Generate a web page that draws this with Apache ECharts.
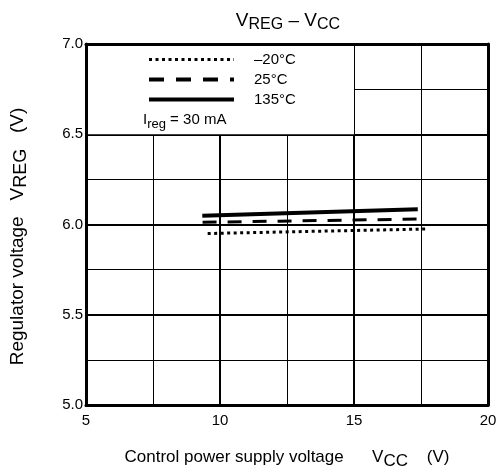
<!DOCTYPE html>
<html>
<head>
<meta charset="utf-8">
<script src="https://cdn.jsdelivr.net/npm/echarts@6/dist/echarts.min.js"></script>
<style>html,body{margin:0;padding:0;background:#fff;}#c{width:502px;height:471px;}</style>
</head>
<body>
<div id="c"></div>
<script>
// ---- data ----
const seriesNames = ['–20°C', '25°C', '135°C'];
const vccM20 = [9.54, 17.68];
const vregM20 = [5.950, 5.975];
const vcc25 = [9.35, 17.38];
const vreg25 = [6.012, 6.030];
const vcc135 = [9.34, 17.38];
const vreg135 = [6.048, 6.085];
const xTicks = [5, 10, 15, 20];
const yTicks = [5.0, 5.5, 6.0, 6.5, 7.0];
// legend box region (no grid inside): x range and y range
const boxX = [5, 15];
const boxY = [6.5, 7.0];

const FONT = "'Liberation Sans', Arial, sans-serif";
function pairs(xs, ys) { return xs.map((x, i) => [x, ys[i]]); }

const chart = echarts.init(document.getElementById('c'), null, { renderer: 'canvas' });
const frameLine = { show: true, lineStyle: { color: '#000', width: 3 } };
const noShow = { show: false };
const dotType = [3, 3.5];
const dashType = [14, 11];

function richPair(main, sub, lhMain, lhSub) {
  return {
    a: { fontFamily: FONT, fontSize: main, fontWeight: 'normal', color: '#000', lineHeight: lhMain, verticalAlign: 'top' },
    s: { fontFamily: FONT, fontSize: sub, fontWeight: 'normal', color: '#000', lineHeight: lhSub, verticalAlign: 'bottom' }
  };
}

chart.setOption({
  animation: false,
  backgroundColor: '#fff',
  textStyle: { fontFamily: FONT, color: '#000' },
  title: {
    text: '{a|V}{s|REG}{a| – V}{s|CC}',
    left: 283, top: 6, textAlign: 'center',
    textStyle: { fontWeight: 'normal', rich: richPair(19, 16, 22, 16) }
  },
  grid: { left: 86, right: 14, top: 44, bottom: 66, containLabel: false, outerBoundsMode: 'none' },
  legend: {
    orient: 'vertical', left: 147, top: 52, padding: 0,
    itemWidth: 85, itemHeight: 14, itemGap: 5,
    itemStyle: { opacity: 0 },
    data: [
      { name: seriesNames[0], lineStyle: { width: 3, type: dotType, color: '#000' } },
      { name: seriesNames[1], lineStyle: { width: 4, type: [15, 12], color: '#000' } },
      { name: seriesNames[2], lineStyle: { width: 4, type: 'solid', color: '#000' } }
    ],
    textStyle: { fontFamily: FONT, fontSize: 15, lineHeight: 14, color: '#000', padding: [0, 0, 0, 15] }
  },
  graphic: [{
    type: 'text', left: 143, top: 112, z: 10,
    style: {
      text: '{a|I}{s|reg}{a| = 30 mA}',
      rich: {
        a: { fontFamily: FONT, fontSize: 15, fill: '#000', lineHeight: 19, verticalAlign: 'top' },
        s: { fontFamily: FONT, fontSize: 13, fill: '#000', lineHeight: 14, verticalAlign: 'bottom' }
      }
    }
  }],
  xAxis: [{
    type: 'value', position: 'bottom', min: 5, max: 20, interval: 5,
    axisLine: frameLine, axisTick: noShow,
    axisLabel: { fontFamily: FONT, fontSize: 15, color: '#000', margin: 8,
      formatter: v => String(v) },
    splitLine: { show: true, lineStyle: { color: '#000', width: 2 } },
    minorTick: { show: false, splitNumber: 2 },
    minorSplitLine: { show: true, lineStyle: { color: '#000', width: 1 } },
    name: '{a|Control power supply voltage      V}{s|CC}{a|    (V)}',
    nameLocation: 'middle', nameGap: 44,
    nameTextStyle: { rich: richPair(17, 17, 21, 17) },
    z: 0
  }, {
    type: 'value', position: 'top', min: 5, max: 20,
    axisLine: frameLine, axisTick: noShow, axisLabel: noShow, splitLine: noShow, z: 5
  }],
  yAxis: [{
    type: 'value', position: 'left', min: 5, max: 7, interval: 0.5,
    axisLine: { show: false }, axisTick: noShow,
    axisLabel: { fontFamily: FONT, fontSize: 15, color: '#000', margin: 3,
      formatter: v => v.toFixed(1) },
    splitLine: { show: true, lineStyle: { color: '#000', width: 2 } },
    minorTick: { show: false, splitNumber: 2 },
    minorSplitLine: { show: true, lineStyle: { color: '#000', width: 1 } },
    name: '{a|Regulator voltage   V}{s|REG}{a|   (V)}',
    nameLocation: 'middle', nameGap: 56, nameRotate: 90,
    nameTextStyle: { padding: [0, 24, 0, 0], rich: richPair(19, 18, 22, 18) },
    z: 0
  }, {
    type: 'value', position: 'left', min: 5, max: 7,
    axisLine: frameLine, axisTick: noShow, axisLabel: noShow, splitLine: noShow, z: 5
  }, {
    type: 'value', position: 'right', min: 5, max: 7,
    axisLine: frameLine, axisTick: noShow, axisLabel: noShow, splitLine: noShow, z: 5
  }],
  series: [{
    name: seriesNames[0], type: 'line', data: pairs(vccM20, vregM20),
    symbol: 'none', lineStyle: { color: '#000', width: 3, type: dotType, cap: 'butt' },
    itemStyle: { color: '#000' },
    markArea: {
      silent: true, itemStyle: { color: '#fff', borderWidth: 0 },
      data: [[{ coord: [boxX[0], boxY[0]] }, { coord: [boxX[1], boxY[1]] }]]
    }
  }, {
    name: seriesNames[1], type: 'line', data: pairs(vcc25, vreg25),
    symbol: 'none', lineStyle: { color: '#000', width: 3, type: dashType, cap: 'butt' },
    itemStyle: { color: '#000' }
  }, {
    name: seriesNames[2], type: 'line', data: pairs(vcc135, vreg135),
    symbol: 'none', lineStyle: { color: '#000', width: 4, type: 'solid' },
    itemStyle: { color: '#000' }
  }]
});
</script>
</body>
</html>
